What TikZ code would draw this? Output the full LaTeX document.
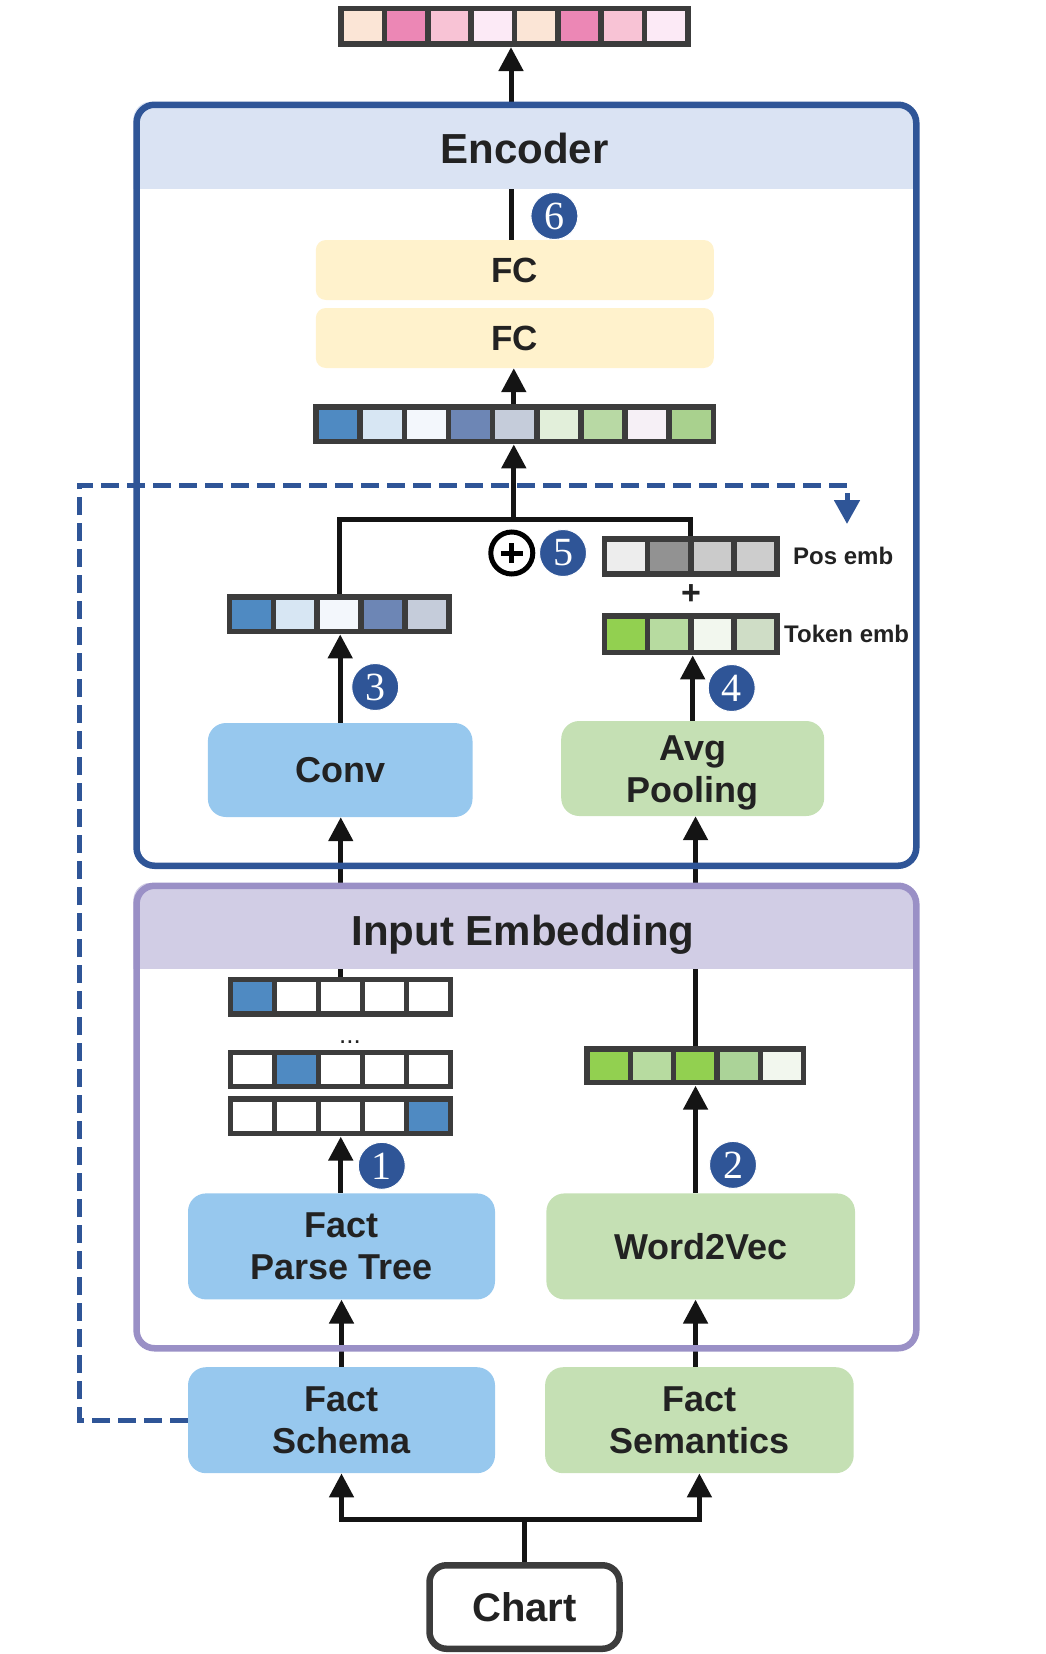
\documentclass[tikz,border=0pt]{standalone}
\usepackage{fontspec}
\setmainfont{Liberation Sans}
\newfontfamily\numfont{Liberation Serif}
\usetikzlibrary{arrows.meta}
\definecolor{encblue}{HTML}{2F5597}
\definecolor{enchdr}{HTML}{DAE3F3}
\definecolor{embpurple}{HTML}{9A90C6}
\definecolor{embhdr}{HTML}{D1CDE5}
\definecolor{boxblue}{HTML}{97C8EE}
\definecolor{boxgreen}{HTML}{C5E0B4}
\definecolor{fcyellow}{HTML}{FFF2CC}
\definecolor{linec}{HTML}{141414}
\definecolor{cellline}{HTML}{3C3C3C}
\definecolor{txtc}{HTML}{222222}
\pgfdeclarelayer{lines}
\pgfdeclarelayer{hdr}
\pgfsetlayers{lines,hdr,main}
\tikzset{
  conn/.style={line width=5, draw=linec},
  arr/.style={conn, -{Triangle[width=24,length=24]}},
  dasharr/.style={line width=5, draw=encblue, dash pattern=on 18 off 8, -{Triangle[width=25,length=24]}},
  cellb/.style={line width=5.5, draw=cellline},
  box/.style={rounded corners=18, inner sep=0, align=center, text=txtc,
    font=\bfseries\fontsize{36}{42}\selectfont},
  bluebox/.style={box, fill=boxblue},
  greenbox/.style={box, fill=boxgreen},
  fcbox/.style={box, fill=fcyellow, rounded corners=10, font=\bfseries\fontsize{35}{42}\selectfont},
  badge/.style={circle, fill=encblue, draw=white, line width=1, text=white, minimum size=47, inner sep=0,
    font=\numfont\fontsize{40}{40}\selectfont},
  hdrtext/.style={inner sep=0, text=txtc, font=\bfseries\fontsize{42}{48}\selectfont},
  smalltext/.style={inner sep=0, text=txtc, font=\bfseries\fontsize{24}{28}\selectfont},
  frame/.style={rounded corners=18, line width=6.5, inner sep=0, anchor=north west}
}
% #1 name, #2 left, #3 top, #4 right, #5 bottom (outer edges), #6 number of cells, #7 colours
\newcommand\cellrow[7]{%
  \pgfmathsetmacro\cw{(#4-#2-5.5)/#6}%
  \pgfmathsetmacro\chh{#5-#3-5.5}%
  \foreach \cc [count=\ci from 0] in {#7}{%
    \edef\tmpdef{\noexpand\definecolor{tmpc}{HTML}{\cc}}\tmpdef
    \draw[cellb, fill=tmpc] ({#2+2.75+\ci*\cw},{#3+2.75}) rectangle ++(\cw,\chh);
  }
  \node[inner sep=0, minimum width={#4-#2}, minimum height={#5-#3}, anchor=north west] (#1) at (#2,#3) {};
}
\begin{document}
\begin{tikzpicture}[x=1pt,y=-1pt]
\useasboundingbox (0,0) rectangle (1045,1654);

% ---------- frames ----------
\node[frame, draw=encblue, minimum width=779.7, minimum height=761] (enc) at (133.3,101.5) {};
\node[frame, draw=embpurple, minimum width=779.7, minimum height=462.5] (emb) at (133.3,882.5) {};
\begin{pgfonlayer}{hdr}
  \begin{scope}
    \clip[rounded corners=18] (133.3,101.5) rectangle (913,862.5);
    \fill[enchdr] (133.3,101.5) rectangle (913,189);
  \end{scope}
  \begin{scope}
    \clip[rounded corners=18] (133.3,882.5) rectangle (913,1345);
    \fill[embhdr] (133.3,882.5) rectangle (913,969);
  \end{scope}
\end{pgfonlayer}
\node[hdrtext] (enctitle) at (524.5,148.5) {Encoder};
\node[hdrtext, anchor=base] (embtitle) at (523,945) {Input Embedding};

% ---------- vectors ----------
\cellrow{topvec}{338.3}{5.7}{690.7}{46.7}{8}{FBE5D6,EC87B5,F8C3D5,FCEAF6,FBE5D6,EC87B5,F8C3D5,FCEAF6}
\cellrow{fcvec}{313.3}{404.3}{716.1}{444}{9}{4F8AC2,D7E6F3,F3F7FC,6D86B5,C5CCDA,E2EFDA,B8D9A4,F6F0F6,A9D18E}
\cellrow{convvec}{226.6}{594.3}{451.8}{634}{5}{4F8AC2,D7E6F3,F3F7FC,6D86B5,C5CCDA}
\cellrow{posvec}{601.8}{536}{779.7}{576.7}{4}{EDEDED,929292,CBCBCB,CDCDCD}
\cellrow{tokvec}{601.8}{613.3}{779.7}{655}{4}{92D050,B7DBA0,F2F7EE,CFDDC6}
\cellrow{ohA}{227.9}{976.8}{453.2}{1016.7}{5}{4F8AC2,FFFFFF,FFFFFF,FFFFFF,FFFFFF}
\cellrow{ohB}{227.9}{1049.8}{453.2}{1089.2}{5}{FFFFFF,4F8AC2,FFFFFF,FFFFFF,FFFFFF}
\cellrow{ohC}{227.9}{1096.3}{453.2}{1136.2}{5}{FFFFFF,FFFFFF,FFFFFF,FFFFFF,4F8AC2}
\cellrow{w2vvec}{584.4}{1046.3}{806.3}{1085.3}{5}{92D050,B7DBA0,92D050,ABD398,F2F7EE}

\node[smalltext, anchor=west] (poslbl) at (793,555.5) {Pos emb};
\node[smalltext, anchor=base west] (toklbl) at (784,642) {Token emb};
\node[inner sep=0, text=txtc, font=\bfseries\fontsize{34}{34}\selectfont] (plus) at (691,595) {+};
\node[inner sep=0, text=txtc, font=\fontsize{26}{26}\selectfont] (dots) at (350,1042) {...};

% ---------- boxes ----------
\node[fcbox, minimum width=398, minimum height=60] (fc1) at (514.8,270) {FC};
\node[fcbox, minimum width=398, minimum height=60] (fc2) at (514.8,338) {FC};
\node[bluebox, minimum width=264.6, minimum height=94] (conv) at (340.2,770) {Conv};
\node[greenbox, minimum width=263, minimum height=95] (avg) at (692.7,768.5) {\rule{0pt}{33pt}Avg\\Pooling};
\node[bluebox, minimum width=307, minimum height=106] (fpt) at (341.5,1246.4) {Fact\\Parse Tree};
\node[greenbox, minimum width=308.6, minimum height=106] (w2v) at (700.7,1246.4) {Word2Vec};
\node[bluebox, minimum width=307, minimum height=106] (schema) at (341.5,1420.2) {Fact\\Schema};
\node[greenbox, minimum width=308.6, minimum height=106] (sem) at (699.4,1420.2) {Fact\\Semantics};
\node[box, fill=white, draw=cellline, line width=6.5, rounded corners=17, minimum width=190, minimum height=83.5,
  font=\bfseries\fontsize{40}{44}\selectfont] (chart) at (524.5,1607) {Chart};

% ---------- plus circle and badges ----------
\node[circle, draw=black, line width=5, minimum size=42, inner sep=0] (oplus) at (511.8,553) {};
\draw[line width=5, black] ([xshift=-11]oplus.center) -- ([xshift=11]oplus.center);
\draw[line width=5, black] ([yshift=-10]oplus.center) -- ([yshift=10]oplus.center);
\node[badge] (b1) at (381.8,1165.8) {1};
\node[badge] (b2) at (733,1164.9) {2};
\node[badge] (b3) at (375.2,687) {3};
\node[badge] (b4) at (731.7,688) {4};
\node[badge] (b5) at (563,553) {5};
\node[badge] (b6) at (554.4,216) {6};

% ---------- connectors ----------
\coordinate (jn) at (513.8,519);
\coordinate (topx) at (511,0);
\coordinate (cj) at (524.5,1519);
\coordinate (dl) at (79,1420.2);
\coordinate (dt) at (79,485);
\coordinate (dr) at (847,485);
\coordinate (dend) at (847,524);
\begin{pgfonlayer}{lines}
  \draw[dasharr] (schema.west) -- (dl) -- (dt) -- (dr) -- (dend);
  \draw[arr] (topx |- fc1.north) -- (topx |- topvec.south);
  \draw[arr] (jn |- fcvec.north) -- (jn |- fc2.south);
  \draw[arr] (jn) -- (jn |- fcvec.south);
  \draw[conn] (convvec.north) |- (jn) -| (posvec.north);
  \draw[arr] (conv.north) -- (conv.north |- convvec.south);
  \draw[arr] (avg.north) -- (avg.north |- tokvec.south);
  \draw[arr] (ohA.north) -- (ohA.north |- conv.south);
  \draw[arr] (w2vvec.north) -- (w2vvec.north |- avg.south);
  \draw[arr] (fpt.north -| ohC.south) -- (ohC.south);
  \draw[arr] (w2vvec.south |- w2v.north) -- (w2vvec.south);
  \draw[arr] (schema.north) -- (schema.north |- fpt.south);
  \draw[arr] (w2vvec.south |- sem.north) -- (w2vvec.south |- w2v.south);
  \draw[conn] (chart.north) -- (cj);
  \draw[arr] (cj) -| (schema.south);
  \draw[arr] (cj) -| (sem.south);
\end{pgfonlayer}
\end{tikzpicture}
\end{document}
